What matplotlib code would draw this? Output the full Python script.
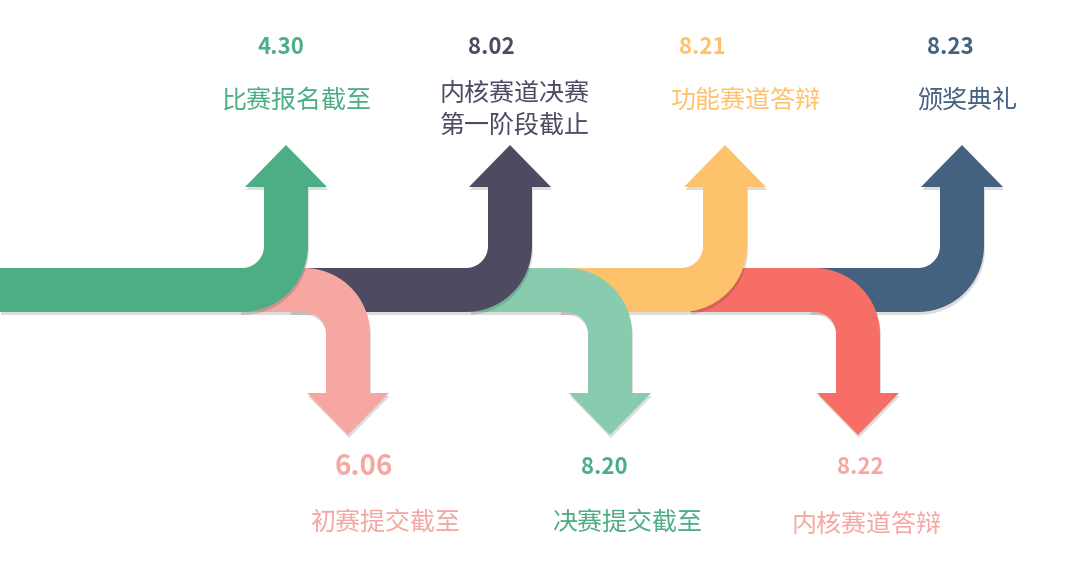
import numpy as np
import matplotlib.pyplot as plt
from matplotlib.patches import Polygon

plt.rcParams['font.family'] = ['Noto Sans CJK SC', 'DejaVu Sans']

# milestones: (direction, arrow centre x, band start x, colour)
directions = ['up', 'down', 'up', 'down', 'up', 'down', 'up']
centres = [286, 348, 510, 610, 725, 858, 962]
starts = [0, 240, 290, 470, 560, 690, 810]
colors = ['#4dae86', '#f6a7a2', '#4e4a62', '#88cbae', '#fec26d', '#f76e66', '#44617f']
dates = ['4.30', '6.06', '8.02', '8.20', '8.21', '8.22', '8.23']
labels = ['比赛报名截至', '初赛提交截至', '内核赛道决赛\n第一阶段截止', '决赛提交截至',
          '功能赛道答辩', '内核赛道答辩', '颁奖典礼']
date_xy = [(281, 47), (364, 467), (491, 47), (604, 467), (702, 47), (860, 467), (950, 47)]
label_xy = [(297, 101), (385, 523), (515, 110), (627, 523), (745, 101), (866, 525), (967, 101)]
date_colors = ['#4dae86', '#f6a7a2', '#4e4a62', '#4dae86', '#fec26d', '#f6a7a2', '#44617f']
label_colors = ['#4dae86', '#f6a7a2', '#4e4a62', '#4dae86', '#fec26d', '#f6a7a2', '#44617f']

top, bot, half, R = 268, 312, 22, 66


def arrow_poly(d, cx, x0):
    pts = []
    if d == 'up':
        c = (cx - 44, bot - R)
        pts += [(x0, bot)]
        a = np.linspace(np.pi / 2, 0, 20)
        pts += [(c[0] + R * np.cos(t), c[1] + R * np.sin(t)) for t in a]
        pts += [(cx + half, 187), (cx + 41, 187), (cx, 145), (cx - 41, 187), (cx - half, 187)]
        a = np.linspace(0, np.pi / 2, 20)
        pts += [(c[0] + half * np.cos(t), c[1] + half * np.sin(t)) for t in a]
        pts += [(x0, top)]
    else:
        c = (cx - 44, top + R)
        pts += [(x0, top)]
        a = np.linspace(-np.pi / 2, 0, 20)
        pts += [(c[0] + R * np.cos(t), c[1] + R * np.sin(t)) for t in a]
        pts += [(cx + half, 393), (cx + 41, 393), (cx, 435), (cx - 41, 393), (cx - half, 393)]
        a = np.linspace(0, -np.pi / 2, 20)
        pts += [(c[0] + half * np.cos(t), c[1] + half * np.sin(t)) for t in a]
        pts += [(x0, bot)]
    return pts


fig = plt.figure(figsize=(10.73, 5.72), dpi=100)
ax = fig.add_axes([0, 0, 1, 1])
ax.set_xlim(0, 1073)
ax.set_ylim(572, 0)
ax.axis('off')

n = len(centres)
for i in range(n):
    z = n - i if directions[i] == 'up' else n - i - 0.5
    pts = arrow_poly(directions[i], centres[i], starts[i])
    shadow = [(x + 1, y + 3) for x, y in pts]
    ax.add_patch(Polygon(shadow, closed=True, color='#00000022', lw=0, zorder=z - 0.1))
    ax.add_patch(Polygon(pts, closed=True, color=colors[i], lw=0, zorder=z))

for i in range(n):
    big = directions[i] == 'down' and i == 1
    ax.text(*date_xy[i], dates[i], color=date_colors[i], fontsize=20 if big else 16,
            fontweight='bold', ha='center', va='center', zorder=20)
    ax.text(*label_xy[i], labels[i], color=label_colors[i], fontsize=18,
            ha='center', va='center', linespacing=1.3, zorder=20)

fig.savefig('out.png')
